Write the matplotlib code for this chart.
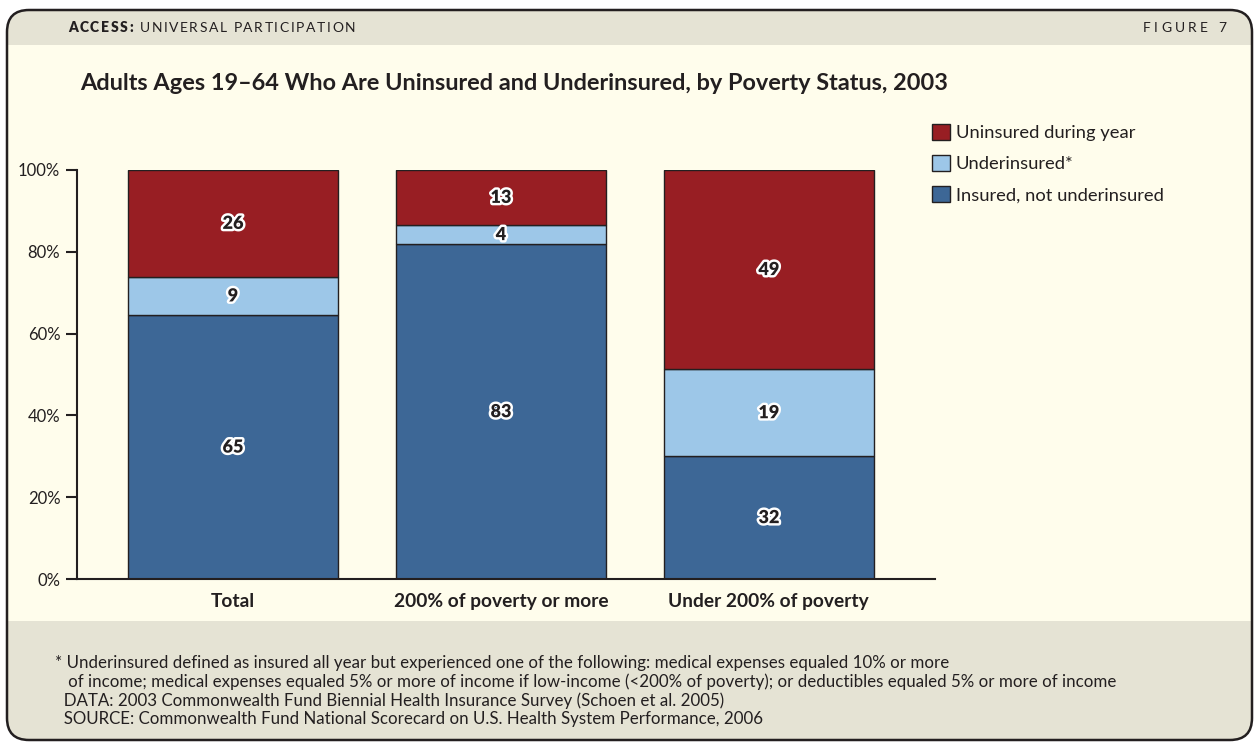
import matplotlib
matplotlib.use("Agg")
import matplotlib.pyplot as plt
from matplotlib.patches import FancyBboxPatch, Rectangle, Patch
import matplotlib.patheffects as pe
import numpy as np

# ---------------- data ----------------
categories = ["Total", "200% of poverty or more", "Under 200% of poverty"]
# segment heights as drawn (percent of adults)
insured = [64.5, 81.8, 30.0]
underinsured = [9.4, 4.8, 21.3]
uninsured = [26.1, 13.4, 48.7]
# printed values
insured_labels = ["65", "83", "32"]
underinsured_labels = ["9", "4", "19"]
uninsured_labels = ["26", "13", "49"]
series_names = ["Insured, not underinsured", "Underinsured*", "Uninsured during year"]
yticks = [0, 20, 40, 60, 80, 100]
ytick_labels = ["0%", "20%", "40%", "60%", "80%", "100%"]

title = "Adults Ages 19\u201364 Who Are Uninsured and Underinsured, by Poverty Status, 2003"
footnotes = [
    "* Underinsured defined as insured all year but experienced one of the following: medical expenses equaled 10% or more",
    "   of income; medical expenses equaled 5% or more of income if low-income (<200% of poverty); or deductibles equaled 5% or more of income",
    "  DATA: 2003 Commonwealth Fund Biennial Health Insurance Survey (Schoen et al. 2005)",
    "  SOURCE: Commonwealth Fund National Scorecard on U.S. Health System Performance, 2006",
]

# ---------------- style ----------------
FONT = "Lato"
plt.rcParams["font.family"] = [FONT, "DejaVu Sans"]
C_RED = "#981e23"
C_LIGHT = "#9dc7e8"
C_DARK = "#3d6796"
C_EDGE = "#231f20"
C_TEXT = "#231f20"
C_CREAM = "#fffdec"
C_BAND = "#e5e3d4"

W, H = 1256, 742
fig = plt.figure(figsize=(W / 100, H / 100), dpi=100)
fig.patch.set_facecolor("white")
T = fig.dpi_scale_trans


def P(x, y):
    return (x / 100, (H - y) / 100)


# background frame
outer = FancyBboxPatch(P(7, 740), (1252 - 7) / 100, (740 - 10) / 100,
                       boxstyle="round,pad=0,rounding_size=0.22",
                       transform=T, facecolor=C_BAND, edgecolor="none", zorder=-30)
fig.add_artist(outer)
cream = Rectangle(P(7, 621), (1252 - 7) / 100, (621 - 45) / 100, transform=T,
                  facecolor=C_CREAM, edgecolor="none", zorder=-29)
fig.add_artist(cream)
border = FancyBboxPatch(P(7, 740), (1252 - 7) / 100, (740 - 10) / 100,
                        boxstyle="round,pad=0,rounding_size=0.22",
                        transform=T, facecolor="none", edgecolor=C_EDGE, lw=1.8, zorder=-28)
fig.add_artist(border)

# ---------------- header with letter spacing ----------------
renderer = fig.canvas.get_renderer()


def width_px(s, **kw):
    t = fig.text(0, 0, s, **kw)
    w = t.get_window_extent(renderer).width
    t.remove()
    return w


def spaced(x0, x1, y, parts, size):
    chars = []
    for s, wt in parts:
        for ch in s:
            chars.append((ch, wt))
    widths = []
    for ch, wt in chars:
        w = width_px("x" + ch + "x", fontsize=size, fontweight=wt) - width_px("xx", fontsize=size, fontweight=wt)
        widths.append(w)
    natural = sum(widths)
    track = (x1 - x0 - natural) / (len(chars) - 1)
    x = x0
    for (ch, wt), w in zip(chars, widths):
        if ch != " ":
            fig.text(*P(x, y), ch, transform=T, fontsize=size, fontweight=wt,
                     color=C_TEXT, va="center", ha="left")
        x += w + track


spaced(68, 355, 28, [("ACCESS:", "heavy"), (" UNIVERSAL PARTICIPATION", "normal")], 10)
spaced(1143, 1226, 28, [("FIGURE 7", "normal")], 10)

# title
fig.text(*P(80, 84), title, transform=T, fontsize=16.9, fontweight="bold",
         color=C_TEXT, va="center", ha="left")

# ---------------- axes ----------------
ax = fig.add_axes([77 / W, (H - 579) / H, (935 - 77) / W, (579 - 170) / H])
ax.set_facecolor("none")
x = np.arange(len(categories))
bw = 0.785
b1 = ax.bar(x, insured, bw, color=C_DARK, edgecolor=C_EDGE, lw=1.0, label=series_names[0])
b2 = ax.bar(x, underinsured, bw, bottom=insured, color=C_LIGHT, edgecolor=C_EDGE, lw=1.0,
            label=series_names[1])
bottom3 = np.array(insured) + np.array(underinsured)
b3 = ax.bar(x, uninsured, bw, bottom=bottom3, color=C_RED, edgecolor=C_EDGE, lw=1.0,
            label=series_names[2])

stroke = [pe.withStroke(linewidth=3.5, foreground="white")]
for bars, labs in ((b1, insured_labels), (b2, underinsured_labels), (b3, uninsured_labels)):
    for rect, lab in zip(bars, labs):
        cx = rect.get_x() + rect.get_width() / 2
        cy = rect.get_y() + rect.get_height() / 2
        ax.text(cx, cy, lab, ha="center", va="center", fontsize=13, fontweight="heavy",
                color=C_TEXT, path_effects=stroke)

ax.set_xlim(-0.582, 2.62)
ax.set_ylim(0, 100)
ax.set_yticks(yticks)
ax.set_yticklabels(ytick_labels, fontsize=12, color=C_TEXT)
ax.set_xticks(x)
ax.set_xticklabels(categories, fontsize=13.8, fontweight="bold", color=C_TEXT)
ax.tick_params(axis="x", length=0, pad=10)
ax.tick_params(axis="y", length=8, width=1.5, color=C_EDGE, direction="out", pad=4)
for s in ("top", "right"):
    ax.spines[s].set_visible(False)
for s in ("left", "bottom"):
    ax.spines[s].set_linewidth(1.5)
    ax.spines[s].set_color(C_EDGE)

# legend
handles = [Patch(facecolor=C_RED, edgecolor=C_EDGE, lw=1.0),
           Patch(facecolor=C_LIGHT, edgecolor=C_EDGE, lw=1.0),
           Patch(facecolor=C_DARK, edgecolor=C_EDGE, lw=1.0)]
labels = [series_names[2], series_names[1], series_names[0]]
leg = ax.legend(handles, labels, loc="upper left", bbox_to_anchor=P(932, 124),
                bbox_transform=T, frameon=False, fontsize=13.2, borderpad=0, borderaxespad=0,
                handlelength=1.0, handleheight=1.0, handletextpad=0.3, labelspacing=0.73)
for t in leg.get_texts():
    t.set_color(C_TEXT)

# footnotes
ys = [663, 682, 701, 719]
for line, yy in zip(footnotes, ys):
    fig.text(*P(55, yy), line, transform=T, fontsize=12.15, color=C_TEXT, va="center", ha="left")

fig.savefig("out.png", dpi=100, facecolor=fig.get_facecolor())
